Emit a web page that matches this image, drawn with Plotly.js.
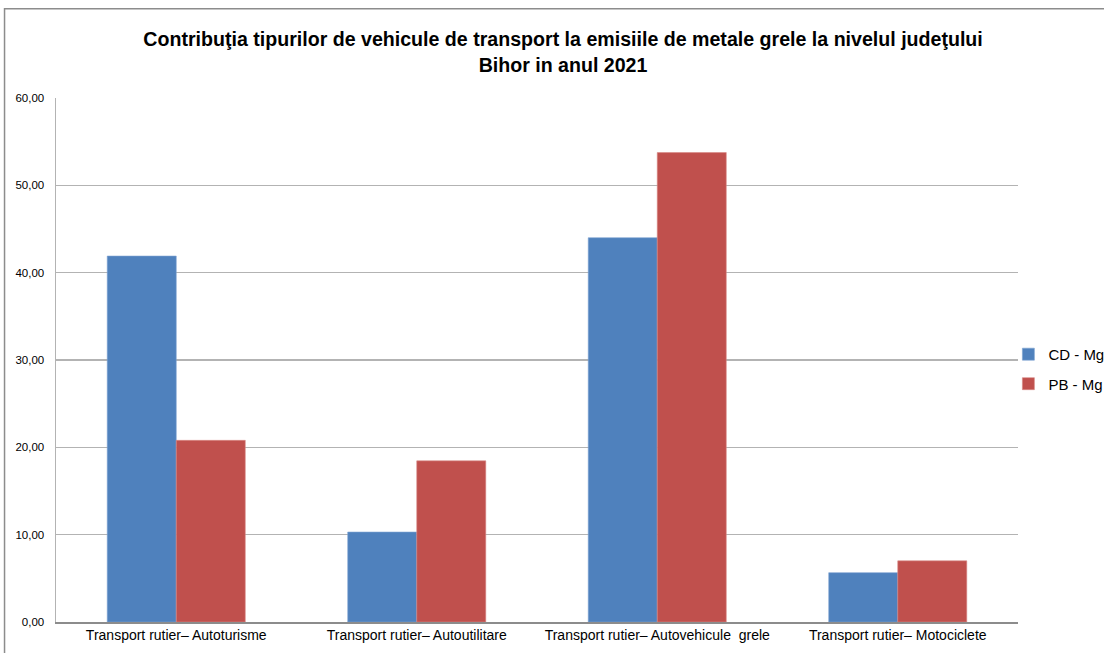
<!DOCTYPE html>
<html>
<head>
<meta charset="utf-8">
<script src="https://cdn.plot.ly/plotly-3.0.1.min.js"></script>
<style>html,body{margin:0;padding:0;background:#fff;overflow:hidden}#chart{width:1104px;height:653px}</style>
</head>
<body>
<div id="chart"></div>
<script>
const categories = [
  "Transport rutier\u2013 Autoturisme",
  "Transport rutier\u2013 Autoutilitare",
  "Transport rutier\u2013 Autovehicule  grele",
  "Transport rutier\u2013 Motociclete"
];
const seriesNames = ["CD - Mg", "PB - Mg"];
const cdValues = [41.9, 10.3, 44.0, 5.65];
const pbValues = [20.8, 18.45, 53.75, 7.0];
const yTicks = [0, 10, 20, 30, 40, 50, 60];

const sans = "'Liberation Sans', Arial, sans-serif";
const traces = [
  {type: "bar", name: seriesNames[0], x: categories, y: cdValues, legendgroup: "cd",
   marker: {color: "#4F81BD", line: {color: "#7EA3D1", width: 0.6}}},
  {type: "bar", name: seriesNames[1], x: categories, y: pbValues, legendgroup: "pb",
   marker: {color: "#C0504D", line: {color: "#D88885", width: 0.6}}}
];
const layout = {
  width: 1104, height: 653,
  margin: {l: 56, r: 86, t: 98, b: 31, autoexpand: false},
  paper_bgcolor: "#fff", plot_bgcolor: "#fff",
  separators: ",.",
  barmode: "group", bargap: 0.426, bargroupgap: 0,
  title: {
    text: "Contribuţia tipurilor de vehicule de transport la emisiile de metale grele la nivelul judeţului<br>Bihor in anul 2021",
    font: {family: sans, size: 19.6, color: "#000", weight: "bold"},
    x: 0.51, xanchor: "center", xref: "container",
    y: 0.929, yanchor: "top", yref: "container"
  },
  xaxis: {
    type: "category",
    showgrid: false, showline: true, linecolor: "#8c8c8c", linewidth: 1.5,
    ticks: "", tickfont: {family: sans, size: 14, color: "#000"},
    automargin: false
  },
  yaxis: {
    range: [0, 60], tickvals: yTicks, tickformat: ".2f",
    showgrid: true, gridcolor: "#b3b3b3", gridwidth: 1.5,
    showline: true, linecolor: "#b3b3b3", linewidth: 1.5,
    zeroline: false, ticks: "", ticklabelstandoff: 8,
    tickfont: {family: sans, size: 11.5, color: "#000"},
    automargin: false
  },
  legend: {
    x: 0.990, xanchor: "left", y: 0.483, yanchor: "middle",
    font: {family: sans, size: 15, color: "#000"},
    itemwidth: 30, tracegroupgap: 7, bgcolor: "rgba(0,0,0,0)"
  },
  shapes: [{
    type: "rect", xref: "paper", yref: "paper",
    x0: -0.0535, x1: 1.5, y0: -0.5, y1: 1.1705,
    line: {color: "#8c8c8c", width: 1.5}, fillcolor: "rgba(0,0,0,0)", layer: "below"
  }],
  showlegend: true
};
Plotly.newPlot("chart", traces, layout, {staticPlot: true, displayModeBar: false});
</script>
</body>
</html>
